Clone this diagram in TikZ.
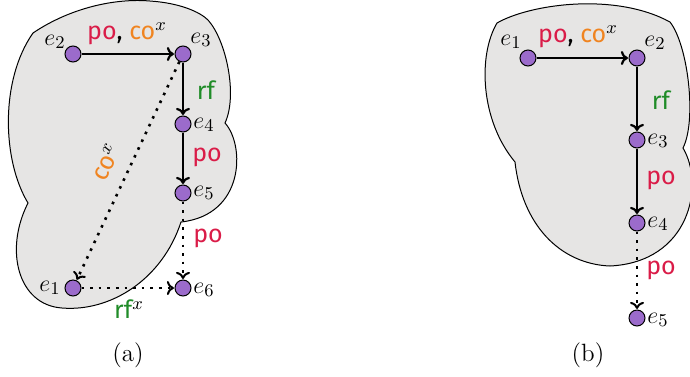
\documentclass[tikz,border=0pt]{standalone}
\usepackage{fontspec}
\newfontfamily\labfont{Fira Sans}
\usetikzlibrary{arrows.meta}
\definecolor{blobgray}{RGB}{230,229,228}
\definecolor{evpurple}{RGB}{155,107,203}
\definecolor{pocol}{RGB}{218,28,72}
\definecolor{cocol}{RGB}{240,132,32}
\definecolor{rfcol}{RGB}{32,140,40}
\tikzset{
  ev/.style={circle,draw=black,line width=0.5pt,fill=evpurple,minimum size=8pt,inner sep=0pt},
  evlab/.style={inner sep=0pt,font=\fontsize{13}{15}\selectfont},
  rel/.style={inner sep=0pt,font=\fontsize{12.5}{15}\selectfont\labfont},
  blob/.style={draw=black,line width=0.5pt,fill=blobgray},
  solidarr/.style={line width=1.1pt,-{To[length=3.5pt,width=7pt]},shorten >=0.3pt},
  dotarr/.style={line width=1.3pt,dash pattern=on 1.3pt off 3pt,-{To[length=3.5pt,width=7pt,line width=1pt]},shorten >=0.3pt},
  captext/.style={inner sep=0pt,font=\fontsize{12.5}{15}\selectfont}
}
\begin{document}
\begin{tikzpicture}[x=0.5pt,y=-0.5pt]
\useasboundingbox (0,0) rectangle (690,376);
% blob (a)
\path[blob] (33,33) .. controls (70,8) and (115,-2) .. (150,1)
  .. controls (180,3) and (200,12) .. (208,20)
  .. controls (226,40) and (238,95) .. (225,123)
  .. controls (245,145) and (245,215) .. (181,222)
  .. controls (162,280) and (110,312) .. (62,308)
  .. controls (18,305) and (4,250) .. (28,203)
  .. controls (2,160) and (0,80) .. (33,33) -- cycle;
% blob (b)
\path[blob] (497,23) .. controls (530,4) and (615,-8) .. (670,22)
  .. controls (688,45) and (697,120) .. (683,148)
  .. controls (705,185) and (690,262) .. (610,266)
  .. controls (560,264) and (522,225) .. (515,162)
  .. controls (480,120) and (478,55) .. (497,23) -- cycle;
% events (a)
\node[ev] (a2) at (73,54) {};
\node[ev] (a3) at (183,54) {};
\node[ev] (a4) at (183,124) {};
\node[ev] (a5) at (183,193) {};
\node[ev] (a6) at (183,288) {};
\node[ev] (a1) at (73,288) {};
\draw[solidarr] (a2) -- (a3);
\draw[solidarr] (a3) -- (a4);
\draw[solidarr] (a4) -- (a5);
\draw[dotarr] (a5) -- (a6);
\draw[dotarr] (a1) -- (a6);
\draw[dotarr] (a3) -- (a1);
\node[evlab] (la2) at (55,42) {$e_2$};
\node[evlab] (la3) at (201,40) {$e_3$};
\node[evlab] (la4) at (204,125) {$e_4$};
\node[evlab] (la5) at (204,193) {$e_5$};
\node[evlab] (la6) at (204,290) {$e_6$};
\node[evlab] (la1) at (50,288) {$e_1$};
\node[rel] (ra1) at (127,34) {\textcolor{pocol}{po}, \textcolor{cocol}{co}$^x$};
\node[rel,text=rfcol] (ra2) at (206,90) {rf};
\node[rel,text=pocol] (ra3) at (207,157) {po};
\node[rel,text=pocol] (ra4) at (208,238) {po};
\node[rel] (ra5) at (129,309) {\textcolor{rfcol}{rf}$^x$};
\node[rel,rotate=65] (ra6) at (106,162) {\textcolor{cocol}{co}$^x$};
\node[captext] (capa) at (128,355) {(a)};
% events (b)
\node[ev] (b1) at (528,58) {};
\node[ev] (b2) at (637,58) {};
\node[ev] (b3) at (637,140) {};
\node[ev] (b4) at (637,223) {};
\node[ev] (b5) at (637,318) {};
\draw[solidarr] (b1) -- (b2);
\draw[solidarr] (b2) -- (b3);
\draw[solidarr] (b3) -- (b4);
\draw[dotarr] (b4) -- (b5);
\node[evlab] (lb1) at (511,42) {$e_1$};
\node[evlab] (lb2) at (655,43) {$e_2$};
\node[evlab] (lb3) at (658,141) {$e_3$};
\node[evlab] (lb4) at (658,224) {$e_4$};
\node[evlab] (lb5) at (658,320) {$e_5$};
\node[rel] (rb1) at (578,37) {\textcolor{pocol}{po}, \textcolor{cocol}{co}$^x$};
\node[rel,text=rfcol] (rb2) at (661,100) {rf};
\node[rel,text=pocol] (rb3) at (661,180) {po};
\node[rel,text=pocol] (rb4) at (661,270) {po};
\node[captext] (capb) at (588,355) {(b)};
\end{tikzpicture}
\end{document}
